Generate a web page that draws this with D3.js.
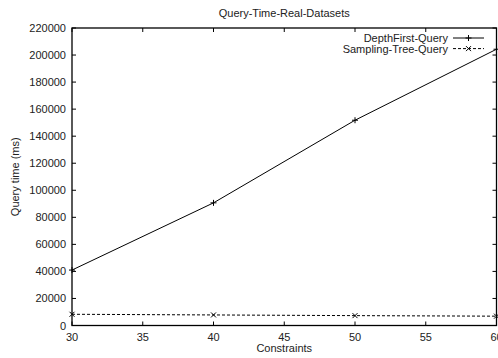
<!DOCTYPE html>
<html>
<head>
<meta charset="utf-8">
<script src="https://cdn.jsdelivr.net/npm/d3@7"></script>
<style>
  body { margin: 0; background: #fff; }
  text { font-family: "Liberation Sans", Arial, sans-serif; font-size: 11px; fill: #222; }
</style>
</head>
<body>
<svg id="chart" width="498" height="358"></svg>
<script>
// values
const constraints = [30, 40, 50, 60];
const depthFirst = [41000, 90700, 151800, 204300];
const samplingTree = [8300, 7800, 7300, 6900];
const xTicks = [30, 35, 40, 45, 50, 55, 60];
const yTicks = d3.range(0, 220001, 20000);

const svg = d3.select('#chart');
const margin = {top: 28, right: 1.5, bottom: 32.5, left: 72};
const width = 498 - margin.left - margin.right;
const height = 358 - margin.top - margin.bottom;

const x = d3.scaleLinear().domain([30, 60]).range([margin.left, margin.left + width]);
const y = d3.scaleLinear().domain([0, 220000]).range([margin.top + height, margin.top]);

const g = svg.append('g');

// ticks on all four sides (gnuplot mirror style)
const tick = 4;
xTicks.forEach(t => {
    g.append('line').attr('x1', x(t)).attr('x2', x(t))
        .attr('y1', y(0)).attr('y2', y(0) - tick).attr('stroke', '#000');
    g.append('line').attr('x1', x(t)).attr('x2', x(t))
        .attr('y1', y(220000)).attr('y2', y(220000) + tick).attr('stroke', '#000');
    g.append('text').attr('x', x(t)).attr('y', y(0) + 15)
        .attr('text-anchor', 'middle').text(t);
});
yTicks.forEach(t => {
    g.append('line').attr('x1', x(30)).attr('x2', x(30) + tick)
        .attr('y1', y(t)).attr('y2', y(t)).attr('stroke', '#000');
    g.append('line').attr('x1', x(60)).attr('x2', x(60) - tick)
        .attr('y1', y(t)).attr('y2', y(t)).attr('stroke', '#000');
    g.append('text').attr('x', x(30) - 6).attr('y', y(t) + 4)
        .attr('text-anchor', 'end').text(t);
});

// frame
g.append('rect').attr('x', x(30)).attr('y', y(220000))
    .attr('width', x(60) - x(30)).attr('height', y(0) - y(220000))
    .attr('fill', 'none').attr('stroke', '#000').attr('stroke-width', 1.3);

const line = d3.line().x((d, i) => x(constraints[i])).y(d => y(d));

function plus(sel, cx, cy) {
    sel.append('path').attr('d', `M${cx - 3},${cy}H${cx + 3}M${cx},${cy - 3}V${cy + 3}`)
        .attr('stroke', '#000').attr('stroke-width', 1);
}
function cross(sel, cx, cy) {
    sel.append('path').attr('d', `M${cx - 2.5},${cy - 2.5}L${cx + 2.5},${cy + 2.5}M${cx - 2.5},${cy + 2.5}L${cx + 2.5},${cy - 2.5}`)
        .attr('stroke', '#000').attr('stroke-width', 1);
}

g.append('path').datum(depthFirst).attr('d', line)
    .attr('fill', 'none').attr('stroke', '#000').attr('stroke-width', 1);
depthFirst.forEach((v, i) => plus(g, x(constraints[i]), y(v)));

g.append('path').datum(samplingTree).attr('d', line)
    .attr('fill', 'none').attr('stroke', '#000').attr('stroke-width', 1)
    .attr('stroke-dasharray', '3,2');
samplingTree.forEach((v, i) => cross(g, x(constraints[i]), y(v)));

// legend
const legend = [
    {name: 'DepthFirst-Query', dash: null, mark: plus},
    {name: 'Sampling-Tree-Query', dash: '3,2', mark: cross}
];
legend.forEach((d, i) => {
    const ly = 38 + i * 10.6;
    g.append('text').attr('x', 448).attr('y', ly + 4)
        .attr('text-anchor', 'end').text(d.name);
    g.append('line').attr('x1', 453).attr('x2', 484).attr('y1', ly).attr('y2', ly)
        .attr('stroke', '#000').attr('stroke-dasharray', d.dash);
    d.mark(g, 468.5, ly);
});

// titles
g.append('text').attr('x', (x(30) + x(60)) / 2).attr('y', 17)
    .attr('text-anchor', 'middle').text('Query-Time-Real-Datasets');
g.append('text').attr('x', (x(30) + x(60)) / 2).attr('y', 352)
    .attr('text-anchor', 'middle').text('Constraints');
g.append('text').attr('transform', `translate(19,${(y(0) + y(220000)) / 2}) rotate(-90)`)
    .attr('text-anchor', 'middle').text('Query time (ms)');
</script>
</body>
</html>
